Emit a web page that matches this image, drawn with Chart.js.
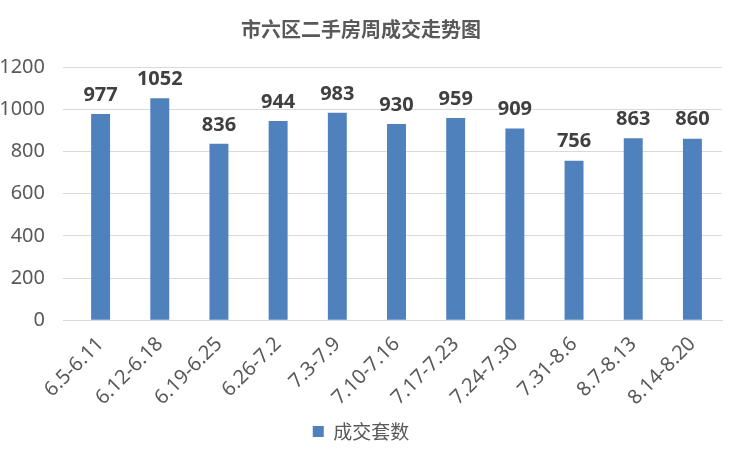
<!DOCTYPE html>
<html><head><meta charset="utf-8">
<script src="https://cdn.jsdelivr.net/npm/chart.js@4/dist/chart.umd.min.js"></script>
<style>html,body{margin:0;padding:0;background:#fff}#wrap{width:749px;height:455px}</style>
</head><body><div id="wrap"><canvas id="c"></canvas></div>
<script>
const categories = ["6.5-6.11","6.12-6.18","6.19-6.25","6.26-7.2","7.3-7.9","7.10-7.16","7.17-7.23","7.24-7.30","7.31-8.6","8.7-8.13","8.14-8.20"];
const values = [977,1052,836,944,983,930,959,909,756,863,860];
const yTicks = [0,200,400,600,800,1000,1200];
const seriesName = "成交套数";
const titleText = "市六区二手房周成交走势图";

const labelPlugin = {
  id:'labels',
  afterDatasetsDraw(chart){
    const ctx = chart.ctx;
    const meta = chart.getDatasetMeta(0);
    ctx.save();
    ctx.font = 'bold 20px "Noto Sans", "DejaVu Sans", sans-serif';
    ctx.fillStyle = '#404040';
    ctx.textAlign = 'center';
    ctx.textBaseline = 'bottom';
    meta.data.forEach((bar,i)=>{
      ctx.fillText(String(values[i]), bar.x, bar.y - 9);
    });
    ctx.restore();
  }
};

new Chart(document.getElementById('c'), {
  type:'bar',
  data:{labels:categories, datasets:[{label:seriesName, data:values, backgroundColor:'#4f81bd', categoryPercentage:1, barPercentage:0.32}]},
  options:{
    responsive:true, maintainAspectRatio:false, animation:false,
    layout:{padding:{left:0,right:27,top:8,bottom:4}},
    plugins:{
      title:{display:true,text:titleText,color:'#595959',font:{family:'"Noto Sans CJK SC", sans-serif',size:20,weight:'bold'},padding:{top:9,bottom:26}},
      legend:{position:'bottom',labels:{color:'#595959',boxWidth:11,boxHeight:11,padding:8,font:{family:'"Noto Sans CJK SC", sans-serif',size:19}}},
      tooltip:{enabled:false}
    },
    scales:{
      x:{grid:{display:false},border:{color:'#d9d9d9'},ticks:{color:'#595959',minRotation:45,maxRotation:45,padding:4,font:{family:'"Noto Sans", sans-serif',size:20}}},
      y:{min:0,max:1200,afterFit(s){s.width=71;},afterBuildTicks(s){s.ticks=yTicks.map(v=>({value:v}));},
         grid:{color:'#d9d9d9'},border:{display:false},
         ticks:{color:'#595959',padding:18,callback:v=>String(v),font:{family:'"Noto Sans", sans-serif',size:20}}}
    }
  },
  plugins:[labelPlugin]
});
</script></body></html>
